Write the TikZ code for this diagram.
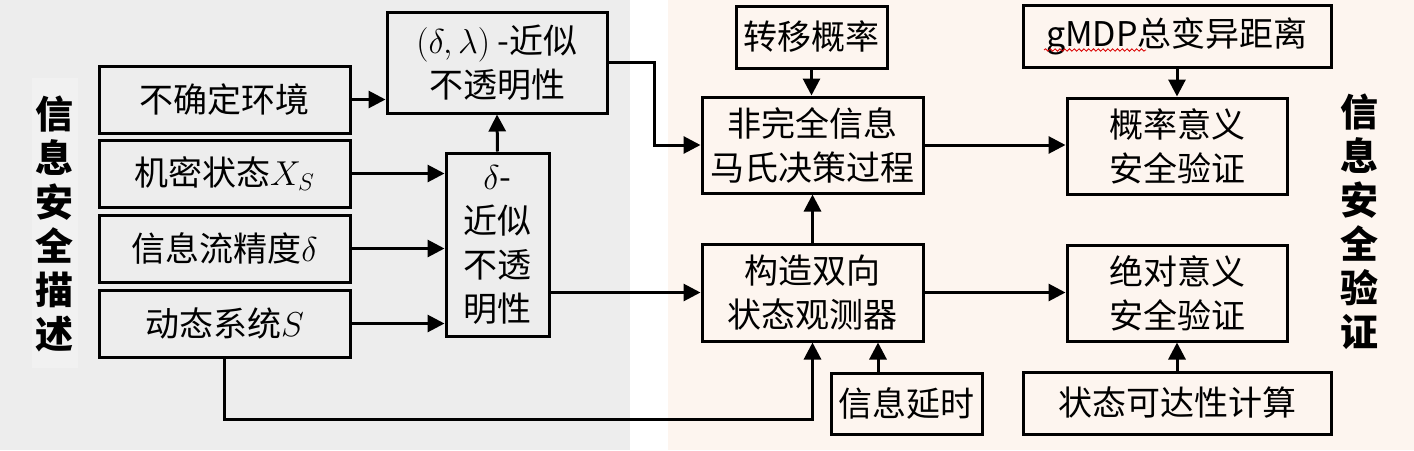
\documentclass[tikz,border=0pt]{standalone}
\usepackage{fontspec}
\setmainfont{Noto Sans CJK SC}
\usetikzlibrary{arrows.meta,decorations.pathmorphing}
\definecolor{leftbg}{HTML}{EDEDED}
\definecolor{labelbg}{HTML}{F1F1F1}
\definecolor{rightbg}{HTML}{FDF5EF}
\tikzset{
  box/.style={draw, line width=1.5pt, inner sep=0pt, align=center,
    font=\fontsize{17}{22}\selectfont},
  link/.style={line width=1.5pt, -{Triangle[length=8.5pt,width=8.5pt]}},
  sidelabel/.style={align=center, inner sep=0pt,
    font=\fontsize{19}{22}\selectfont\bfseries}
}
\begin{document}
\begin{tikzpicture}[x=0.5pt,y=-0.5pt]
\useasboundingbox (0,0) rectangle (1414,450);
\fill[leftbg] (0,0) rectangle (630,450);
\fill[rightbg] (668,0) rectangle (1414,450);
\fill[labelbg] (32,78) rectangle (78,368);

% side labels
\node[sidelabel] (ldesc) at (54,224) {信\\息\\安\\全\\描\\述};
\node[sidelabel] (rver) at (1359,222) {信\\息\\安\\全\\验\\证};

% left boxes
\node[box, minimum width=125.5pt, minimum height=33.5pt] (env)  at (224.5,99.5)  {不确定环境};
\node[box, minimum width=125.5pt, minimum height=33.5pt] (conf) at (224.5,173.5) {机密状态$X_S$};
\node[box, minimum width=125.5pt, minimum height=33.5pt] (prec) at (224.5,248.5) {信息流精度$\delta$};
\node[box, minimum width=125.5pt, minimum height=33.5pt] (sys)  at (224.5,323.5) {动态系统$S$};

\node[box, minimum width=110pt, minimum height=50.5pt] (dl) at (497,62.5) {$(\delta,\lambda)$ -近似\\不透明性};
\node[box, minimum width=51.5pt, minimum height=91.5pt] (d) at (497.5,244.5) {$\delta$-\\近似\\不透\\明性};

% right boxes
\node[box, minimum width=75.5pt, minimum height=31pt] (trans) at (811.5,37) {转移概率};
\node[box, minimum width=110.5pt, minimum height=48pt] (mdp) at (812.5,145) {非完全信息\\马氏决策过程};
\node[box, minimum width=110.5pt, minimum height=48.5pt] (obs) at (812.5,292.5) {构造双向\\状态观测器};
\node[box, minimum width=75.5pt, minimum height=30.5pt] (delay) at (906.5,403.5) {信息延时};

\node[box, minimum width=154pt, minimum height=31pt] (gmdp) at (1177,36) {gMDP总变异距离};
\node[box, minimum width=110pt, minimum height=48pt] (prob) at (1177,146) {概率意义\\安全验证};
\node[box, minimum width=110pt, minimum height=48pt] (abs) at (1177,293) {绝对意义\\安全验证};
\node[box, minimum width=154pt, minimum height=31pt] (reach) at (1177,403) {状态可达性计算};

% spell-check squiggle under gMDP
\coordinate (sqa) at (1044,50);
\coordinate (sqb) at (1146,50);
\draw[red!85!black, line width=0.4pt, decorate, decoration={snake, amplitude=0.6pt, segment length=2.4pt}] (sqa) -- (sqb);

% connectors, left part
\draw[link] (env.east) -- (env.east -| dl.west);
\draw[link] (conf.east) -- (conf.east -| d.west);
\draw[link] (prec.east) -- (prec.east -| d.west);
\draw[link] (sys.east) -- (sys.east -| d.west);
\draw[link] (d.north) -- (dl.south);
\draw[link] (obs.west -| d.east) -- (obs.west);
\draw[link] (dl.east) -- ++(46,0) |- (mdp.west);
\draw[link] (sys.south) -- ++(0,61) -| (obs.south);

% connectors, right part
\draw[link] (trans.south) -- (trans.south |- mdp.north);
\draw[link] (obs.north) -- (mdp.south);
\coordinate (dly) at ([xshift=-14.25pt]delay.north);
\draw[link] (dly) -- (dly |- obs.south);
\draw[link] (mdp.east) -- (mdp.east -| prob.west);
\draw[link] (obs.east) -- (obs.east -| abs.west);
\draw[link] (gmdp.south) -- (prob.north);
\draw[link] (reach.north) -- (abs.south);
\end{tikzpicture}
\end{document}
